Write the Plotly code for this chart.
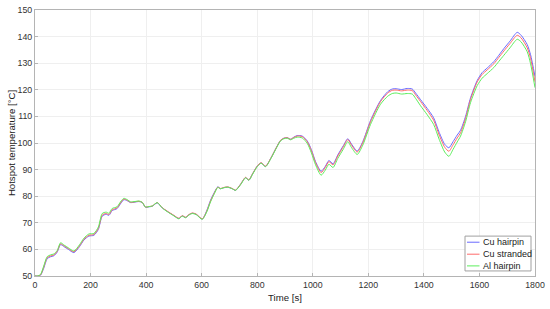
import plotly.graph_objects as go

# time axis [s]
time_s = [0, 10, 20, 30, 44, 55, 68, 80, 92, 105,
          120, 140, 160, 176, 194, 212, 228, 242, 256, 266,
          278, 295, 310, 320, 332, 344, 360, 374, 386, 398,
          410, 422, 440, 458, 476, 500, 518, 530, 542, 554,
          566, 580, 602, 618, 632, 646, 658, 668, 680, 694,
          710, 722, 740, 758, 770, 782, 800, 814, 830, 850,
          870, 884, 896, 908, 920, 932, 944, 962, 980, 995,
          1010, 1030, 1045, 1058, 1073, 1090, 1110, 1126, 1140, 1160,
          1180, 1208, 1244, 1270, 1286, 1300, 1320, 1340, 1358, 1370,
          1388, 1412, 1435, 1455, 1475, 1490, 1505, 1520, 1532, 1550,
          1568, 1592, 1610, 1628, 1652, 1670, 1688, 1710, 1736, 1750,
          1772, 1784, 1800]

cu_hairpin = [50, 50, 50.3, 52.5, 56.5, 57.2, 57.6, 59, 61.8, 61,
              60, 58.8, 61, 63.5, 65, 65.3, 67.5, 72.5, 73.2, 72.8,
              74.6, 75.3, 77.5, 78.7, 78.3, 77.6, 77.8, 78, 77.6, 75.8,
              76, 76.2, 77.5, 75.6, 74.3, 72.7, 71.6, 72.6, 72, 73,
              73.6, 73.2, 71.4, 74.5, 78.5, 81.5, 83.5, 82.8, 83.2, 83.4,
              82.8, 82.2, 84.5, 87, 86, 88.2, 91.3, 92.5, 91.2, 94.5,
              98.5, 101, 101.8, 102, 101.4, 102.2, 102.8, 102.6, 100.8, 97.5,
              93, 89.4, 91.2, 93.4, 92.2, 95.5, 99, 101.6, 99.5, 97,
              100.5, 108.5, 116, 119.3, 120.3, 120.4, 120.1, 120.5, 120.3, 118.8,
              116.3, 113, 109.5, 104, 99.5, 98.2, 100.5, 103, 104.8, 110,
              117, 123.5, 126.5, 128.2, 130.6, 133, 135.5, 138.3, 141.6, 140.5,
              137, 133.2, 125]

cu_stranded = [50, 50, 50.4, 52.9, 56.9, 57.5, 57.9, 59.3, 62.1, 61.3,
               60.3, 59.1, 61.3, 63.8, 65.3, 65.6, 67.9, 72.9, 73.5, 73.1,
               74.9, 75.6, 77.8, 78.9, 78.5, 77.7, 77.9, 78.1, 77.7, 75.9,
               76.1, 76.3, 77.6, 75.7, 74.4, 72.8, 71.7, 72.7, 72.1, 73.1,
               73.7, 73.3, 71.5, 74.3, 78.2, 81.3, 83.4, 82.9, 83.3, 83.5,
               82.9, 82.3, 84.5, 87.1, 86.1, 88.2, 91.3, 92.6, 91.3, 94.5,
               98.5, 101, 101.8, 102, 101.4, 102.1, 102.6, 102.4, 100.5, 97.1,
               92.6, 88.9, 90.8, 93, 91.8, 95.1, 98.6, 101.3, 99.1, 96.6,
               100.1, 108, 115.6, 118.8, 119.8, 119.9, 119.6, 119.9, 119.7, 118.1,
               115.6, 112.2, 108.6, 103, 98.4, 96.9, 99.3, 101.9, 103.8, 109.2,
               116.4, 123, 125.8, 127.5, 129.8, 132.2, 134.6, 137.4, 140.5, 139.5,
               135.8, 131.8, 123]

al_hairpin = [50, 50, 50.6, 53.3, 57.3, 57.9, 58.3, 59.6, 62.5, 61.6,
              60.6, 59.4, 61.7, 64.2, 65.8, 66, 68.4, 73.5, 74, 73.6,
              75.4, 76, 78.2, 79.2, 78.7, 77.9, 78, 78.2, 77.7, 75.9,
              76.1, 76.3, 77.6, 75.6, 74.2, 72.6, 71.5, 72.5, 71.9, 72.9,
              73.5, 73.1, 71.3, 74, 77.9, 81, 83.3, 82.8, 83.2, 83.4,
              82.8, 82.2, 84.3, 86.9, 86, 88, 91.1, 92.4, 91.1, 94.3,
              98.3, 100.8, 101.6, 101.8, 101.2, 101.8, 102.2, 101.9, 99.9, 96.3,
              91.8, 87.9, 89.8, 92, 90.8, 94.2, 97.7, 100.5, 98.2, 95.7,
              99.2, 107, 114.6, 117.6, 118.6, 118.8, 118.4, 118.6, 118.4, 116.8,
              114, 110.6, 107, 101.4, 96.6, 95, 97.6, 100.4, 102.6, 108,
              115.2, 121.6, 124.4, 126.1, 128.4, 130.7, 133, 135.8, 139, 138,
              134.3, 129.8, 120.8]

series = [("Cu hairpin", cu_hairpin, "#6a6aff"),
          ("Cu stranded", cu_stranded, "#ff6a6a"),
          ("Al hairpin", al_hairpin, "#5cee5c")]

fig = go.Figure()
for name, vals, col in series:
    fig.add_trace(go.Scatter(x=time_s, y=vals, mode="lines", name=name, showlegend=False,
                             line=dict(color=col, width=1, shape="spline", smoothing=0.7)))

# compact legend box (plotly's own legend rows are too tall for this size)
fig.add_shape(type="rect", xref="paper", yref="paper", x0=0.86, x1=0.992, y0=0.019, y1=0.15,
              line=dict(color="#a0a0a0", width=1), fillcolor="white", layer="above")
row_y = [0.127, 0.082, 0.038]
for (name, vals, col), ry in zip(series, row_y):
    fig.add_shape(type="line", xref="paper", yref="paper", x0=0.864, x1=0.889, y0=ry, y1=ry,
                  line=dict(color=col, width=1), layer="above")
    fig.add_annotation(xref="paper", yref="paper", x=0.892, y=ry, text=name, showarrow=False,
                       xanchor="left", yanchor="middle", font=dict(size=9, color="#222222"))

axis_style = dict(showgrid=True, gridcolor="#efefef", gridwidth=1,
                  showline=True, linecolor="#b4b4b4", linewidth=1, mirror=True,
                  ticks="inside", ticklen=3, tickcolor="#b4b4b4",
                  tickfont=dict(size=8.8, color="#333333"), zeroline=False,
                  automargin=False)

fig.update_xaxes(range=[0, 1800], dtick=200, title=dict(text="Time [s]", standoff=5,
                 font=dict(size=9.6, color="#222222")), **axis_style)
fig.update_yaxes(range=[50, 150], dtick=10, title=dict(text="Hotspot temperature [°C]", standoff=0,
                 font=dict(size=9.6, color="#222222")), **axis_style)

fig.update_layout(
    width=550, height=309,
    margin=dict(l=35, r=15, t=10, b=33),
    paper_bgcolor="white", plot_bgcolor="white",
    font=dict(family="Liberation Sans, Arial, sans-serif"),
    showlegend=False,
)

fig.write_html("out.html", config={"displayModeBar": False},
               post_script="document.body.style.margin='0';")
